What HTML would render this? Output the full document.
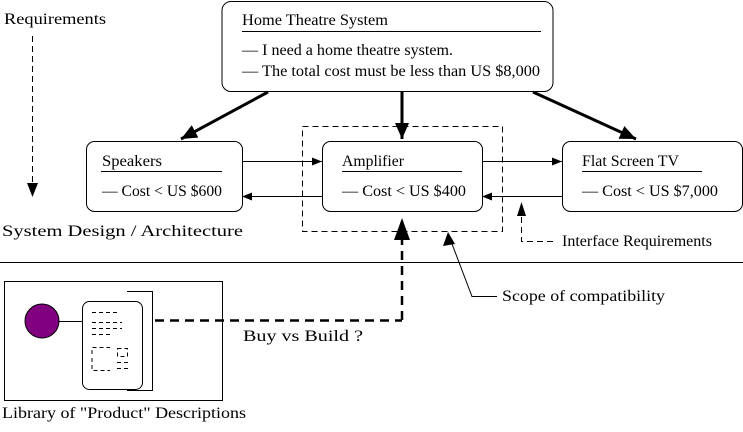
<!DOCTYPE html>
<html><head><style>
body{margin:0;background:#fff}
svg text{font-family:"Liberation Serif",serif;font-size:16px;fill:#000}
</style></head><body>
<svg width="743" height="427" viewBox="0 0 743 427" xmlns="http://www.w3.org/2000/svg">
<defs>
<marker id="a" markerWidth="10" markerHeight="8" refX="10" refY="4" orient="auto" markerUnits="userSpaceOnUse"><path d="M0,0L10,4L0,8z" fill="#000"/></marker>
<marker id="b" markerWidth="16" markerHeight="14" refX="16" refY="7" orient="auto" markerUnits="userSpaceOnUse"><path d="M0,0L16,7L0,14z" fill="#000"/></marker>
</defs>
<g fill="none" stroke="#000" stroke-width="1">
<rect x="222" y="1.5" width="331" height="90" rx="9"/>
<line x1="242" y1="31.5" x2="541" y2="31.5"/>
<rect x="86.5" y="141.5" width="156" height="70" rx="8"/>
<line x1="101" y1="171.5" x2="222" y2="171.5"/>
<rect x="322.5" y="141.5" width="160" height="70" rx="8"/>
<line x1="342" y1="171.5" x2="462" y2="171.5"/>
<rect x="562.5" y="141.5" width="180" height="70" rx="8"/>
<line x1="582" y1="171.5" x2="702" y2="171.5"/>
<rect x="302.5" y="126.5" width="200" height="105" stroke-dasharray="6,4"/>
<line x1="242" y1="161.5" x2="322" y2="161.5" marker-end="url(#a)"/>
<line x1="322" y1="196.5" x2="242" y2="196.5" marker-end="url(#a)"/>
<line x1="482" y1="161.5" x2="562" y2="161.5" marker-end="url(#a)"/>
<line x1="562" y1="196.5" x2="482" y2="196.5" marker-end="url(#a)"/>
<g stroke-width="3">
<line x1="268" y1="92" x2="181" y2="139" marker-end="url(#b)"/>
<line x1="402" y1="91" x2="402" y2="139" marker-end="url(#b)"/>
<line x1="533" y1="92" x2="636" y2="139" marker-end="url(#b)"/>
</g>
<line x1="402" y1="320" x2="402" y2="220" stroke-width="2.5" stroke-dasharray="9,6" />
<path d="M394,240L402,218L410,240z" fill="#000" stroke="none"/>
<line x1="155" y1="320.5" x2="402" y2="320.5" stroke-width="2.5" stroke-dasharray="9,6"/>
<polyline points="497,296.5 472,296.5 449,236"/>
<path d="M443,246L448,232L455,244z" fill="#000" stroke="none"/>
<polyline points="553,241.5 521.5,241.5 521.5,215" stroke-dasharray="6,4"/>
<path d="M517,216L521.5,202L526,216z" fill="#000" stroke="none"/>
<line x1="32.5" y1="36" x2="32.5" y2="185" stroke-dasharray="6,4"/>
<path d="M27,183L32.5,197L38,183z" fill="#000" stroke="none"/>
<line x1="0" y1="262.5" x2="743" y2="262.5"/>
<rect x="4.5" y="281.5" width="218" height="119"/>
<polyline points="127,291.5 152.5,291.5 152.5,390.5 127,390.5"/>
<rect x="82.5" y="301.5" width="60" height="88" rx="7" fill="#fff"/>
<line x1="59" y1="321.5" x2="82" y2="321.5"/>
<circle cx="42" cy="321" r="17" fill="#800080"/>
<g stroke-dasharray="4,3" stroke-width="1">
<line x1="92" y1="312.5" x2="118" y2="312.5"/>
<line x1="92" y1="322.5" x2="122" y2="322.5"/>
<line x1="92" y1="328.5" x2="122" y2="328.5"/>
<line x1="92" y1="334.5" x2="112" y2="334.5"/>
<polyline points="92,354 92,347.5 110,347.5"/>
<polyline points="92,358 92,370.5 110,370.5"/>
<rect x="117.5" y="348.5" width="10" height="8"/>
<line x1="117" y1="362.5" x2="131" y2="362.5"/>
<line x1="117" y1="368.5" x2="131" y2="368.5"/>
</g>
</g>
<g lengthAdjust="spacingAndGlyphs">
<text x="242" y="25" textLength="146" lengthAdjust="spacingAndGlyphs">Home Theatre  System</text>
<text x="242" y="55" textLength="211" lengthAdjust="spacingAndGlyphs">— I need a home theatre system.</text>
<text x="242" y="76" textLength="298" lengthAdjust="spacingAndGlyphs">— The total cost must be less than US $8,000</text>
<text x="102" y="166" textLength="60" lengthAdjust="spacingAndGlyphs">Speakers</text>
<text x="102" y="196" textLength="120" lengthAdjust="spacingAndGlyphs">— Cost &lt; US $600</text>
<text x="342" y="166" textLength="62" lengthAdjust="spacingAndGlyphs">Amplifier</text>
<text x="342" y="196" textLength="124" lengthAdjust="spacingAndGlyphs">— Cost &lt; US $400</text>
<text x="582" y="166" textLength="97" lengthAdjust="spacingAndGlyphs">Flat Screen TV</text>
<text x="582" y="196" textLength="136" lengthAdjust="spacingAndGlyphs">— Cost &lt; US $7,000</text>
<text x="4" y="24" textLength="102" lengthAdjust="spacingAndGlyphs">Requirements</text>
<text x="2" y="236" textLength="241" lengthAdjust="spacingAndGlyphs">System Design / Architecture</text>
<text x="562" y="246" textLength="150" lengthAdjust="spacingAndGlyphs">Interface Requirements</text>
<text x="502" y="301" textLength="163" lengthAdjust="spacingAndGlyphs">Scope of compatibility</text>
<text x="243" y="341" textLength="120" lengthAdjust="spacingAndGlyphs">Buy vs Build ?</text>
<text x="2" y="418" textLength="244" lengthAdjust="spacingAndGlyphs">Library of "Product" Descriptions</text>
</g>
</svg>
</body></html>
